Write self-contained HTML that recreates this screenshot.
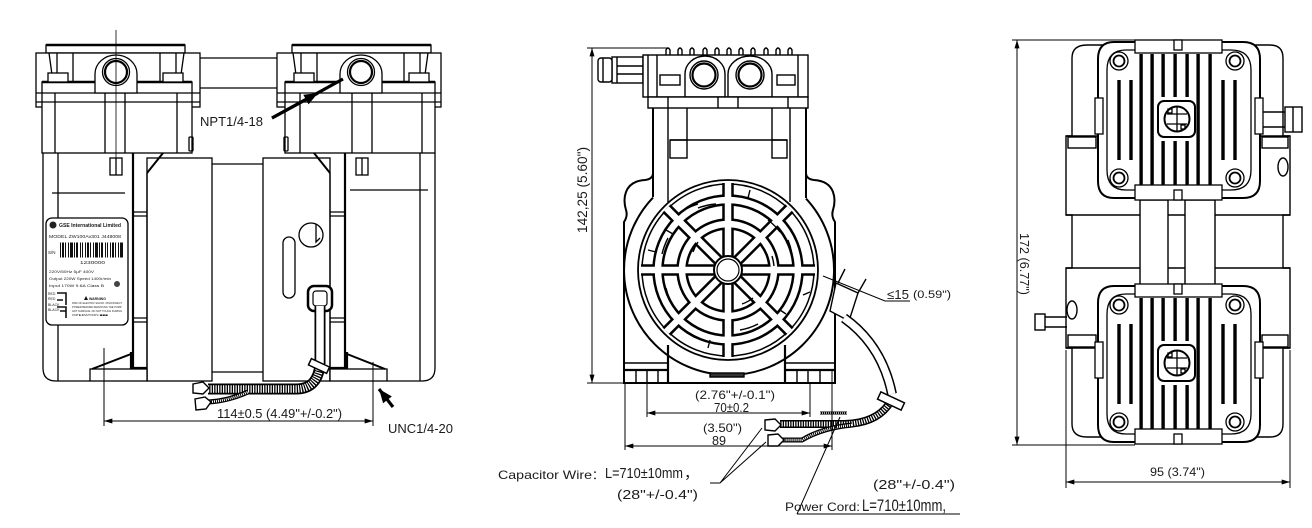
<!DOCTYPE html>
<html><head><meta charset="utf-8">
<style>
html,body{margin:0;padding:0;background:#fff}
svg{display:block}
text{font-family:"Liberation Sans","DejaVu Sans",sans-serif;fill:#1a1a1a;stroke:none}
</style></head><body>
<svg width="1312" height="528" viewBox="0 0 1312 528" xmlns="http://www.w3.org/2000/svg">
<defs>
<marker id="ar" viewBox="0 0 10 6" refX="10" refY="3" markerWidth="9" markerHeight="5" markerUnits="userSpaceOnUse" orient="auto-start-reverse"><path d="M0,0 L10,3 L0,6 z" fill="#000"/></marker>
<marker id="ab" viewBox="0 0 10 8" refX="10" refY="4" markerWidth="14" markerHeight="11" markerUnits="userSpaceOnUse" orient="auto"><path d="M0,0 L10,4 L0,8 z" fill="#000"/></marker>

<g id="lhead" fill="none" stroke="#000" stroke-width="1.3">
<rect x="46" y="45" width="139" height="8" fill="#fff"/>
<path d="M46,45 H185" stroke-width="2.6"/>
<rect x="36" y="53" width="164" height="54" fill="#fff"/>
<rect x="42" y="82" width="150" height="71" fill="#fff"/>
<path d="M42,82 H192" stroke-width="2.6"/>
<path d="M36,93 H200 M36,102 H200"/>
<path d="M49,53 L53,82 M57,53 V82 M73,53 V82 M160,53 V82 M176,53 V82 M184,53 L180,82"/>
<rect x="48" y="73" width="20" height="9" fill="#fff"/>
<rect x="163" y="73" width="20" height="9" fill="#fff"/>
<path d="M55,93 V153 M105,93 V153 M125,93 V153 M177,93 V153"/>
<path d="M95,93 V74 A21,19 0 0 1 137,74 V93 Z" fill="#fff"/>
<circle cx="116" cy="72" r="13.5"/>
<circle cx="116" cy="72" r="11" stroke-width="2.2"/>
<rect x="189" y="137" width="4" height="14" rx="1"/>
</g>

<g id="rhd" fill="none" stroke="#000" stroke-width="1.3">
<path d="M1114,42 H1243 Q1260,42 1260,59 V181 Q1260,198 1243,198 H1114 Q1098,198 1098,181 V59 Q1098,42 1114,42 Z" fill="#fff" stroke-width="2"/>
<path d="M1126,50 H1231 Q1251,50 1251,70 V170 Q1251,190 1231,190 H1126 Q1107,190 1107,170 V70 Q1107,50 1126,50 Z"/>
<rect x="1095" y="98" width="8" height="36" fill="#fff"/>
<rect x="1255" y="98" width="8" height="36" fill="#fff"/>
<g fill="#000" stroke="none">
<rect x="1139.4" y="54" width="3.4" height="132"/>
<rect x="1150.4" y="54" width="3.4" height="132"/>
<rect x="1161.4" y="54" width="3.4" height="43"/>
<rect x="1161.4" y="141" width="3.4" height="45"/>
<rect x="1173.4" y="54" width="3.4" height="43"/>
<rect x="1173.4" y="141" width="3.4" height="45"/>
<rect x="1185.4" y="54" width="3.4" height="43"/>
<rect x="1185.4" y="141" width="3.4" height="45"/>
<rect x="1196.4" y="54" width="3.4" height="132"/>
<rect x="1208.4" y="54" width="3.4" height="132"/>
<rect x="1117.3" y="80" width="3.4" height="80"/>
<rect x="1129.3" y="80" width="3.4" height="80"/>
<rect x="1221.3" y="80" width="3.4" height="80"/>
<rect x="1233.3" y="80" width="3.4" height="80"/>
</g>
<rect x="1135" y="40" width="87" height="13" fill="#fff"/>
<rect x="1174" y="40" width="8" height="10" fill="#fff"/>
<rect x="1135" y="185" width="87" height="15" fill="#fff"/>
<rect x="1174" y="190" width="8" height="10" fill="#fff"/>
<g fill="#fff">
<circle cx="1119" cy="61" r="9"/><circle cx="1119" cy="61" r="5.5" stroke-width="1.8"/>
<circle cx="1235" cy="61" r="9"/><circle cx="1235" cy="61" r="5.5" stroke-width="1.8"/>
<circle cx="1119" cy="178" r="9"/><circle cx="1119" cy="178" r="5.5" stroke-width="1.8"/>
<circle cx="1235" cy="178" r="9"/><circle cx="1235" cy="178" r="5.5" stroke-width="1.8"/>
</g>
<rect x="1158" y="101" width="37" height="36" rx="6" fill="#fff" stroke-width="2"/>
<circle cx="1177" cy="119" r="12.5" stroke-width="2"/>
<path d="M1167,114 H1187 M1167,124 H1187 M1177,107 V131"/>
<rect x="1168" y="109" width="4" height="4"/><rect x="1181" y="125" width="4" height="4"/>
</g>
</defs>

<!-- ================= LEFT VIEW ================= -->
<g fill="none" stroke="#000" stroke-width="1.3">
<path d="M200,58 H277 M200,88 H277"/>
<use href="#lhead"/>
<use href="#lhead" transform="translate(477,0) scale(-1,1)"/>
<line x1="116" y1="30" x2="116" y2="165" stroke-width="0.8"/>

<path d="M43,153 V368 Q43,381 56,381 H90"/>
<path d="M58,153 V381"/>
<path d="M52,193 H125"/>
<rect x="110" y="158" width="12" height="17"/>
<path d="M116,158 V175"/>
<path d="M133,153 V381" stroke-width="2.2"/>
<path d="M147,173 V381"/>
<path d="M163,153 L147,173" stroke-width="2"/>
<path d="M133,212 H147 M133,216 H147 M133,318 H147 M133,322 H147"/>
<rect x="147" y="158" width="65" height="223"/>
<path d="M212,164 H263 M212,372 H263"/>
<rect x="263" y="158" width="67" height="223"/>
<path d="M330,173 V381"/>
<path d="M345,153 V381" stroke-width="2.2"/>
<path d="M314,153 L330,173" stroke-width="2"/>
<path d="M330,212 H345 M330,216 H345 M330,318 H345 M330,322 H345"/>
<path d="M435,153 V368 Q435,381 422,381 H387"/>
<path d="M420,153 V381"/>
<path d="M350,190 H428"/>
<rect x="356" y="158" width="12" height="17"/>
<path d="M362,158 V175"/>
<rect x="90" y="369" width="57" height="12" fill="#fff"/>
<path d="M131,352 V368 H147" stroke-width="2.2"/>
<path d="M92,369 L131,354" stroke-width="2"/>
<rect x="330" y="369" width="57" height="12" fill="#fff"/>
<path d="M347,352 V368 H330" stroke-width="2.2"/>
<path d="M347,354 L385,369" stroke-width="2"/>
<circle cx="311" cy="235" r="12"/>
<path d="M316,224 V242 L320,238"/>
<rect x="283" y="237" width="12" height="61" rx="6"/>
<rect x="46" y="218" width="82" height="107" rx="6" fill="#fff"/>
</g>
<g>
<circle cx="53" cy="225" r="3.5" fill="#222"/>
<text x="59" y="227" font-size="5.5" font-weight="bold" textLength="62" lengthAdjust="spacingAndGlyphs">GSE International Limited</text>
<text x="49" y="238" font-size="4.5" textLength="72" lengthAdjust="spacingAndGlyphs">MODEL  ZW100Av301 J448008</text>
<text x="48" y="254" font-size="4.5">S/N</text>
<line x1="60" y1="250" x2="124" y2="250" stroke="#111" stroke-width="15" stroke-dasharray="1 1 2 1 1 2 1 1 3 1 1 1 2 2 1 1 1 2"/>
<text x="80" y="264" font-size="4.5" textLength="25" lengthAdjust="spacingAndGlyphs">1230000</text>
<text x="49" y="273" font-size="4" textLength="45" lengthAdjust="spacingAndGlyphs">220V/50Hz 5μF 400V</text>
<text x="49" y="280" font-size="4" textLength="62" lengthAdjust="spacingAndGlyphs">Output 220W   Speed 1400r/min</text>
<text x="49" y="287" font-size="4" textLength="55" lengthAdjust="spacingAndGlyphs">Input 170W 9.6A   Class B</text>
<circle cx="117" cy="284" r="3" fill="#444"/>
<text x="48" y="295" font-size="3.5">RED</text>
<text x="48" y="300" font-size="3.5">RED</text>
<text x="48" y="306" font-size="3.5">BLACK</text>
<text x="48" y="311" font-size="3.5">BLACK</text>
<path d="M57,293 H66 V305 M57,300 H63 M57,307 H66 V318 M60,311 H66" stroke="#111" stroke-width="1.6" fill="none"/>
<path d="M84,300 L86,296 L88,300 Z" fill="#111"/>
<text x="89" y="300" font-size="3.5" font-weight="bold">WARNING</text>
<text x="72" y="304" font-size="3" textLength="50" lengthAdjust="spacingAndGlyphs">RISK OF ELECTRIC SHOCK. DISCONNECT</text>
<text x="72" y="308" font-size="3" textLength="50" lengthAdjust="spacingAndGlyphs">POWER BEFORE SERVICING THE PUMP.</text>
<text x="72" y="312" font-size="3" textLength="50" lengthAdjust="spacingAndGlyphs">HOT SURFACE. DO NOT TOUCH DURING</text>
<text x="72" y="316" font-size="3" textLength="36" lengthAdjust="spacingAndGlyphs">OPERATION ■■■</text>
</g>
<g fill="none">
<rect x="308" y="286" width="24" height="25" rx="6" stroke="#000" stroke-width="2.5" fill="#fff"/>
<rect x="313" y="291" width="14" height="15" rx="3" stroke="#000" stroke-width="1.2"/>
<path d="M320,306 V364" stroke="#000" stroke-width="11"/>
<path d="M320,306 V364" stroke="#fff" stroke-width="7.5"/>
<path d="M208,389 H296 Q318,389 320,364" stroke="#000" stroke-width="11"/>
<path d="M208,389 H296 Q318,389 320,364" stroke="#fff" stroke-width="7.5" stroke-dasharray="1.2 1.3"/>
<rect x="-10" y="-3.5" width="20" height="7" transform="translate(319,366) rotate(25)" stroke="#000" stroke-width="1.5" fill="#fff"/>
<path d="M208,402 Q228,401 248,392" stroke="#000" stroke-width="5"/>
<path d="M208,402 Q228,401 248,392" stroke="#fff" stroke-width="2.5" stroke-dasharray="1 1"/>
<path d="M193,384 L203,382 L209,388 L203,394 L193,393 Z" stroke="#000" stroke-width="1.4" fill="#fff"/>
<path d="M195,399 L205,397 L211,402 L206,409 L196,410 Z" stroke="#000" stroke-width="1.4" fill="#fff"/>
</g>
<g stroke="#000" stroke-width="1" fill="none">
<path d="M104,348 V426 M373,362 V426"/>
<line x1="104" y1="421" x2="373" y2="421" marker-start="url(#ar)" marker-end="url(#ar)"/>
<line x1="272" y1="118" x2="343" y2="79" stroke-width="3.2"/>
<line x1="272" y1="118" x2="318" y2="93" stroke-width="3.2" marker-end="url(#ab)"/>
<line x1="393" y1="407" x2="379" y2="389" stroke-width="3.2" marker-end="url(#ab)"/>
</g>
<text x="200" y="126" font-size="13" textLength="63" lengthAdjust="spacingAndGlyphs">NPT1/4-18</text>
<text x="217" y="418" font-size="13" textLength="125" lengthAdjust="spacingAndGlyphs">114±0.5 (4.49"+/-0.2")</text>
<text x="388" y="433" font-size="13" textLength="65" lengthAdjust="spacingAndGlyphs">UNC1/4-20</text>

<!-- ================= MIDDLE VIEW ================= -->
<g fill="none" stroke="#000" stroke-width="1.4">
<path d="M666,55 V50 Q668,46 670,50 V55 M678,55 V50 Q680,46 682,50 V55 M690,55 V50 Q692,46 694,50 V55 M703,55 V50 Q705,46 707,50 V55 M715,55 V50 Q717,46 719,50 V55 M727,55 V50 Q729,46 731,50 V55 M739,55 V50 Q741,46 743,50 V55 M751,55 V50 Q753,46 755,50 V55 M764,55 V50 Q766,46 768,50 V55 M776,55 V50 Q778,46 780,50 V55 M788,55 V50 Q790,46 792,50 V55"/>
<rect x="612" y="57" width="31" height="26" fill="#fff"/>
<rect x="598" y="58" width="14" height="24" rx="3" fill="#fff"/>
<path d="M603,58 V82 M617,57 V83 M617,66 H643 M617,74 H643"/>
<rect x="643" y="55" width="165" height="42" fill="#fff"/>
<path d="M648,55 V97 M657,55 V97 M798,55 V97"/>
<rect x="660" y="75" width="20" height="10"/>
<rect x="777" y="75" width="18" height="10"/>
<path d="M685,97 V74 A20,18 0 0 1 725,74 V97 Z" fill="#fff"/>
<path d="M728,97 V74 A22,18 0 0 1 772,74 V97 Z" fill="#fff"/>
<circle cx="704" cy="75" r="14"/>
<circle cx="704" cy="75" r="11.5" stroke-width="2.2"/>
<circle cx="750" cy="75" r="14"/>
<circle cx="750" cy="75" r="11.5" stroke-width="2.2"/>
<rect x="648" y="97" width="160" height="11" fill="#fff"/>
<path d="M668,97 V108 M718,97 V108 M738,97 V108 M788,97 V108"/>
<path d="M653,108 V197 M806,108 V198" stroke-width="2"/>
<path d="M668,108 V202 M790,108 V202"/>
<path d="M687,108 V140 M772,108 V140 M670,140 H787"/>
<rect x="670" y="140" width="17" height="18"/>
<rect x="772" y="140" width="15" height="18"/>
<path d="M653,173 Q653,179 645,180 Q630,181 626,192 Q623,200 626,210 Q628,216 624,222 V383 H835 V222 Q831,216 833,210 Q836,200 833,192 Q829,181 814,180 Q806,179 806,173" stroke-width="2"/>
<path d="M653,197.6 A105,105 0 1 0 806,198.6" stroke-width="2"/>
</g>
<g transform="translate(728,270)" fill="none">
<circle r="90" stroke="#000" stroke-width="1.8"/>
<circle r="86" stroke="#000" stroke-width="1.5"/>
<g stroke="#000" stroke-width="11.5">
<circle r="70"/><circle r="46"/>
<path d="M-87,0 H87 M0,-87 V87 M-61.5,-61.5 L61.5,61.5 M-61.5,61.5 L61.5,-61.5"/>
</g>
<g stroke="#fff" stroke-width="6.5">
<circle r="70"/><circle r="46"/>
<path d="M-87,0 H87 M0,-87 V87 M-61.5,-61.5 L61.5,61.5 M-61.5,61.5 L61.5,-61.5"/>
</g>
<g stroke="#000" stroke-width="1.4">
<path d="M-30,-62 A68,68 0 0 1 -12,-66 M40,-50 A62,62 0 0 1 52,-38 M-58,30 A62,62 0 0 1 -62,18 M30,54 A60,60 0 0 1 12,60 M-35,-18 A38,38 0 0 1 -30,-28 M25,28 A36,36 0 0 1 14,34"/>
<path d="M-80,-20 L-72,-18 M75,25 L82,22 M-20,78 L-18,70 M22,-80 L20,-72 M-62,-40 L-55,-36 M58,44 L52,40"/>
<path d="M-44,-60 A72,72 0 0 1 -30,-66 M60,-30 A66,66 0 0 1 64,-16 M-60,-32 A68,68 0 0 0 -66,-16 M44,-14 A48,48 0 0 1 46,-4"/>
</g>
<circle r="14" fill="#fff" stroke="#000" stroke-width="2"/>
<circle r="11" fill="none" stroke="#000" stroke-width="1.2"/>
</g>
<g fill="none" stroke="#000" stroke-width="1.4">
<path d="M624,363 H668 V383" />
<path d="M636,370 V383 M647,370 V383 M658,370 V383"/>
<path d="M624,370 H668" stroke-width="2.2"/>
<path d="M668,345 V383" stroke-width="2.2"/>
<path d="M835,363 H785 V383"/>
<path d="M797,370 V383 M808,370 V383 M820,370 V383"/>
<path d="M785,370 H835" stroke-width="2.2"/>
<path d="M785,345 V383" stroke-width="2.2"/>
<rect x="710" y="373" width="34" height="4" fill="#333"/>
<path d="M836,283 L858,293 L849,321 L830,311 Z" fill="#fff"/>
<path d="M838,283 L845,269 M858,293 L866,279"/>
</g>
<g fill="none">
<path d="M844,318 Q882,345 892,394" stroke="#000" stroke-width="10"/>
<path d="M844,318 Q882,345 892,394" stroke="#fff" stroke-width="7"/>
<path d="M889,404 Q876,423 845,424 H780" stroke="#000" stroke-width="8"/>
<path d="M889,404 Q876,423 845,424 H780" stroke="#fff" stroke-width="5" stroke-dasharray="1.2 1.3"/>
<path d="M852,425 Q822,428 802,440 H782" stroke="#000" stroke-width="5"/>
<path d="M852,425 Q822,428 802,440 H782" stroke="#fff" stroke-width="2.5" stroke-dasharray="1 1"/>
<path d="M820,413 H847" stroke="#000" stroke-width="3"/>
<path d="M820,413 H847" stroke="#fff" stroke-width="1.2" stroke-dasharray="1 1"/>
<rect x="-13" y="-4" width="26" height="8" transform="translate(891,401) rotate(25)" stroke="#000" stroke-width="1.5" fill="#fff"/>
<path d="M765,420 L775,419 L781,425 L775,431 L765,430 Z" stroke="#000" stroke-width="1.4" fill="#fff"/>
<path d="M768,435 L778,434 L784,440 L778,446 L768,446 Z" stroke="#000" stroke-width="1.4" fill="#fff"/>
</g>
<g stroke="#000" stroke-width="1" fill="none">
<path d="M587,48 H667 M587,383 H623"/>
<line x1="592" y1="48" x2="592" y2="383" marker-start="url(#ar)" marker-end="url(#ar)"/>
<path d="M647,383 V417 M810,383 V417 M625,383 V450 M832,370 V450"/>
<line x1="647" y1="413" x2="810" y2="413" marker-start="url(#ar)" marker-end="url(#ar)"/>
<line x1="625" y1="446" x2="832" y2="446" marker-start="url(#ar)" marker-end="url(#ar)"/>
<path d="M823,276 L885,301 H910"/>
<path d="M710,483 H720 L762,428 M720,483 L766,442"/>
<path d="M797,514 L840,417 M797,514 H960"/>
</g>
<text transform="translate(587,190) rotate(-90)" text-anchor="middle" font-size="14" textLength="86" lengthAdjust="spacingAndGlyphs">142,25 (5.60")</text>
<text x="695" y="399" font-size="12" textLength="80" lengthAdjust="spacingAndGlyphs">(2.76"+/-0.1")</text>
<text x="714" y="412" font-size="13" textLength="35" lengthAdjust="spacingAndGlyphs">70±0.2</text>
<text x="703" y="432" font-size="12" textLength="39" lengthAdjust="spacingAndGlyphs">(3.50")</text>
<text x="712" y="445" font-size="13" textLength="14" lengthAdjust="spacingAndGlyphs">89</text>
<text x="887" y="299" font-size="13" font-family="Liberation Serif, serif" textLength="22" lengthAdjust="spacingAndGlyphs">≤15</text>
<text x="913" y="298" font-size="11" textLength="38" lengthAdjust="spacingAndGlyphs">(0.59")</text>
<text x="498" y="479" font-size="12" textLength="94" lengthAdjust="spacingAndGlyphs">Capacitor Wire</text>
<text x="592" y="479" font-size="12" font-family="Noto Sans CJK SC, sans-serif">：</text>
<text x="605" y="478" font-size="15" textLength="78" lengthAdjust="spacingAndGlyphs">L=710±10mm</text>
<text x="684" y="478" font-size="15" font-family="Noto Sans CJK SC, sans-serif">，</text>
<text x="617" y="499" font-size="13" textLength="81" lengthAdjust="spacingAndGlyphs">(28"+/-0.4")</text>
<text x="873" y="489" font-size="13" textLength="82" lengthAdjust="spacingAndGlyphs">(28"+/-0.4")</text>
<text x="785" y="511" font-size="12" textLength="75" lengthAdjust="spacingAndGlyphs">Power Cord:</text>
<text x="862" y="511" font-size="17" font-family="Liberation Serif, serif" textLength="84" lengthAdjust="spacingAndGlyphs">L=710±10mm,</text>

<!-- ================= RIGHT VIEW ================= -->
<g fill="none" stroke="#000" stroke-width="1.4">
<path d="M1087,45 H1270 Q1283,45 1283,58 V136 H1290 V215 H1283 V268 H1290 V348 H1283 V424 Q1283,437 1270,437 H1087 Q1072,437 1072,424 V348 H1066 V268 H1072 V215 H1066 V136 H1072 V58 Q1072,45 1087,45 Z" fill="#fff"/>
<path d="M1066,136 H1290 M1066,215 H1290 M1066,268 H1290 M1066,348 H1290"/>
<rect x="1068" y="137" width="28" height="11"/>
<rect x="1262" y="137" width="26" height="11"/>
<rect x="1068" y="335" width="28" height="12"/>
<rect x="1262" y="335" width="26" height="12"/>
<ellipse cx="1283" cy="167" rx="5" ry="9"/>
<ellipse cx="1072" cy="310" rx="5" ry="9"/>
<path d="M1260,112 H1285 M1260,127 H1285"/>
<rect x="1285" y="107" width="17" height="25" fill="#fff"/>
<path d="M1293,107 V132"/>
<path d="M1045,317 H1067 M1045,327 H1067"/>
<rect x="1035" y="314" width="10" height="16" fill="#fff"/>
<rect x="1140" y="200" width="28" height="88" fill="#fff"/>
<rect x="1185" y="200" width="30" height="88" fill="#fff"/>
</g>
<use href="#rhd"/>
<use href="#rhd" transform="translate(0,244)"/>
<g stroke="#000" stroke-width="1" fill="none">
<path d="M1012,40 H1135 M1012,445 H1135"/>
<line x1="1017" y1="40" x2="1017" y2="445" marker-start="url(#ar)" marker-end="url(#ar)"/>
<path d="M1066,350 V488 M1290,350 V488"/>
<line x1="1066" y1="482" x2="1290" y2="482" marker-start="url(#ar)" marker-end="url(#ar)"/>
</g>
<text transform="translate(1020,264) rotate(90)" text-anchor="middle" font-size="13" textLength="62" lengthAdjust="spacingAndGlyphs">172 (6.77")</text>
<text x="1150" y="476" font-size="12" textLength="55" lengthAdjust="spacingAndGlyphs">95 (3.74")</text>
</svg>
</body></html>
